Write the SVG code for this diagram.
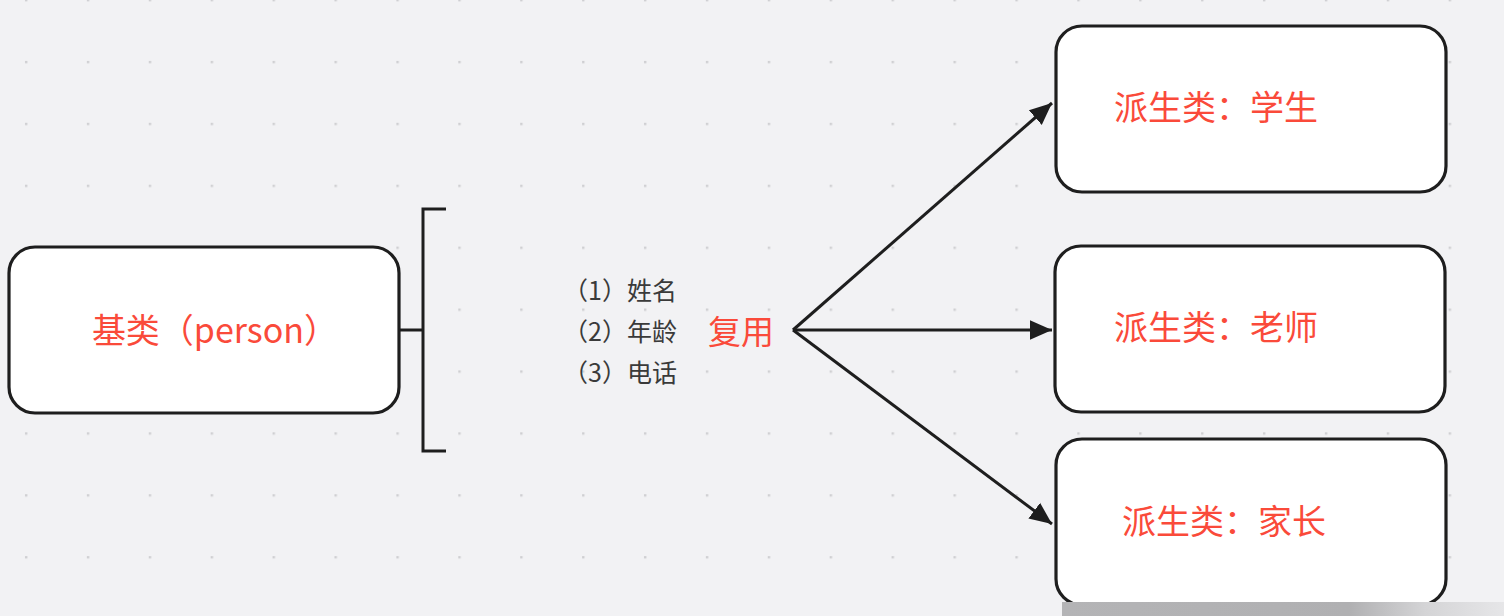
<svg xmlns="http://www.w3.org/2000/svg" width="1504" height="616" viewBox="0 0 1504 616">
<defs>
<pattern id="dots" x="0" y="0" width="61.9" height="61.9" patternUnits="userSpaceOnUse">
<rect x="25" y="-1" width="2.4" height="2.4" fill="#cfcfd2"/>
<rect x="25" y="60.9" width="2.4" height="2.4" fill="#cfcfd2"/>
</pattern>
<marker id="arrow" viewBox="0 0 10 10" refX="10" refY="5" markerWidth="7.4" markerHeight="7.4" markerUnits="strokeWidth" orient="auto">
<path d="M0,0.6 L10,5 L0,9.4 z" fill="#1e1e1e"/>
</marker>
<linearGradient id="blur" x1="0" y1="0" x2="1" y2="0">
<stop offset="0" stop-color="#b4b4b6"/>
<stop offset="0.65" stop-color="#b0b0b2"/>
<stop offset="0.82" stop-color="#d4d4d6"/>
<stop offset="1" stop-color="#e6e6e8"/>
</linearGradient>
</defs>
<style>
.node{fill:#ffffff;stroke:#1e1e1e;stroke-width:3.2}
.red{fill:#fa4a3a;font-family:"Noto Sans CJK SC","Noto Sans",sans-serif;font-size:34px}
.gray{fill:#3a3a3a;font-family:"Noto Sans CJK SC","Noto Sans",sans-serif;font-size:25px}
.line{fill:none;stroke:#1e1e1e;stroke-width:3}
</style>
<rect width="1504" height="616" fill="#f2f2f4"/>
<rect width="1504" height="616" fill="url(#dots)"/>

<g id="base">
<rect class="node" x="9" y="247" width="390" height="166" rx="26"/>
<text class="red" x="215" y="343" text-anchor="middle">基类（person）</text>
</g>

<g id="attributes">
<text class="gray" x="563" y="300">（1）姓名</text>
<text class="gray" x="563" y="341">（2）年龄</text>
<text class="gray" x="563" y="382">（3）电话</text>
</g>

<g id="reuse">
<text class="red" x="741" y="344" text-anchor="middle" style="font-size:33px">复用</text>
</g>

<g id="student">
<rect class="node" x="1056" y="26" width="390" height="166" rx="26"/>
<text class="red" x="1216" y="120" text-anchor="middle">派生类：学生</text>
</g>

<g id="teacher">
<rect class="node" x="1055" y="246" width="390" height="166" rx="26"/>
<text class="red" x="1216" y="340" text-anchor="middle">派生类：老师</text>
</g>

<g id="parent">
<rect class="node" x="1056" y="439" width="390" height="166" rx="26"/>
<text class="red" x="1224" y="534" text-anchor="middle">派生类：家长</text>
</g>

<g id="connectors">
<path class="line" d="M399,330 H423"/>
<path class="line" d="M446,209 H423 V451 H446"/>
<path class="line" d="M793,330 L1052,103" marker-end="url(#arrow)"/>
<path class="line" d="M793,330 L1052,330" marker-end="url(#arrow)"/>
<path class="line" d="M793,330 L1052,524" marker-end="url(#arrow)"/>
</g>

<rect x="1062" y="602" width="442" height="14" fill="url(#blur)"/>
</svg>
